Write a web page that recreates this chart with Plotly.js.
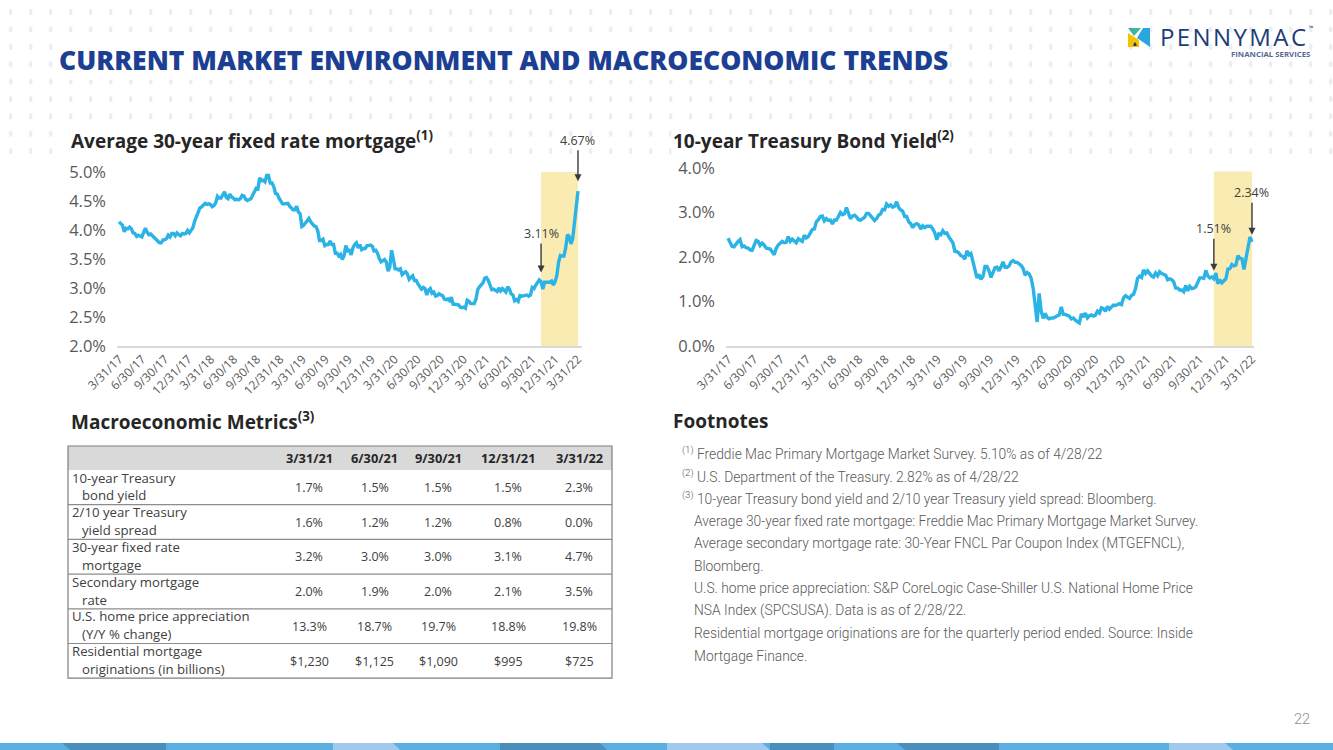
<!DOCTYPE html>
<html>
<head>
<meta charset="utf-8">
<script src="https://cdn.plot.ly/plotly-3.0.1.min.js"></script>
<style>
  html, body { margin: 0; padding: 0; background: #ffffff; }
  #chart { width: 1333px; height: 750px; }
</style>
</head>
<body>
<div id="chart"></div>
<script>
// ---------------- data ----------------
// Quarter-end tick labels shared by both charts
const quarterLabels = ['3/31/17','6/30/17','9/30/17','12/31/17','3/31/18','6/30/18','9/30/18','12/31/18',
  '3/31/19','6/30/19','9/30/19','12/31/19','3/31/20','6/30/20','9/30/20','12/31/20',
  '3/31/21','6/30/21','9/30/21','12/31/21','3/31/22'];

// Weekly series start (Thursdays)
const seriesStart = '2017-03-30';

// Average 30-year fixed rate mortgage, weekly (%)
const mortgage2017 = [4.14, 4.10,4.08,3.97,4.03, 4.02,4.05,4.02,3.95, 3.94,3.89,3.91,3.90,3.88, 3.96,4.03,3.96,3.92,
  3.93,3.90,3.89,3.86,3.82, 3.78,3.78,3.83,3.83, 3.85,3.91,3.88,3.94, 3.94,3.90,3.95,3.92,3.90, 3.94,3.93,3.94,3.99];
const mortgage2018 = [3.95,3.99,4.04,4.15, 4.22,4.32,4.38,4.40, 4.43,4.46,4.44,4.45,4.44, 4.40,4.42,4.47,4.58,
  4.55,4.55,4.61,4.66,4.56, 4.54,4.62,4.57,4.55, 4.52,4.53,4.52,4.54, 4.60,4.59,4.53,4.51,4.52, 4.54,4.60,4.65,4.72,
  4.71,4.90,4.85,4.86, 4.83,4.94,4.94,4.81,4.81, 4.75,4.63,4.62,4.55];
const mortgage2019 = [4.51,4.45,4.45,4.45,4.46, 4.41,4.37,4.35,4.35, 4.41,4.31,4.28,4.06, 4.08,4.12,4.17,4.20,
  4.14,4.10,4.07,4.06,3.99, 3.82,3.82,3.84,3.73, 3.75,3.75,3.81,3.75, 3.75,3.60,3.60,3.55,3.58, 3.49,3.56,3.73,3.64,
  3.65,3.57,3.69,3.75,3.78, 3.69,3.75,3.66,3.68, 3.68,3.73,3.73,3.74];
const mortgage2020 = [3.72,3.64,3.65,3.60,3.51, 3.45,3.47,3.49,3.45, 3.29,3.36,3.65,3.50, 3.33,3.33,3.31,3.33,3.23,
  3.26,3.28,3.24,3.15, 3.18,3.21,3.13,3.13, 3.07,3.03,2.98,3.01,2.99, 2.88,2.96,2.99,2.91, 2.93,2.86,2.87,2.90,
  2.88,2.87,2.81,2.80,2.81, 2.78,2.84,2.72,2.72, 2.71,2.71,2.67,2.66,2.67];
const mortgage2021 = [2.65,2.79,2.77,2.73, 2.73,2.73,2.81,2.97, 3.02,3.05,3.09,3.17, 3.18,3.13,3.04,2.97,2.98,
  2.96,2.94,3.00,2.95, 2.99,2.96,2.93,3.02, 2.98,2.90,2.88,2.78,2.80, 2.77,2.87,2.86,2.87, 2.87,2.88,2.86,2.88,3.01,
  2.99,3.05,3.09,3.14, 3.11,2.98,3.10,3.10, 3.11,3.10,3.12,3.05,3.11];
const mortgage2022 = [3.22,3.45,3.56,3.55, 3.55,3.69,3.92,3.89, 3.76,3.85,4.16,4.42,4.67];

// 10-year Treasury bond yield, weekly (%)
const treasury2017 = [2.42, 2.34,2.24,2.23,2.30, 2.35,2.39,2.23,2.25, 2.21,2.20,2.16,2.15,2.27, 2.37,2.35,2.26,2.31,
  2.27,2.20,2.19,2.18,2.12, 2.05,2.19,2.27,2.31, 2.35,2.32,2.33,2.46, 2.35,2.40,2.37,2.32,2.41, 2.37,2.35,2.49,2.43];
const treasury2018 = [2.46,2.55,2.62,2.63, 2.79,2.84,2.91,2.92, 2.81,2.86,2.82,2.83,2.74, 2.83,2.83,2.91,3.00,
  2.95,2.97,3.11,2.98,2.86, 2.92,2.94,2.90,2.84, 2.83,2.85,2.89,2.98, 2.98,2.93,2.87,2.82,2.86, 2.94,2.97,3.07,3.06,
  3.19,3.14,3.17,3.12, 3.14,3.24,3.11,3.06,3.03, 2.91,2.91,2.79,2.75];
const treasury2019 = [2.66,2.73,2.75,2.72,2.63, 2.70,2.66,2.69,2.69, 2.69,2.63,2.54,2.39, 2.52,2.50,2.59,2.53,
  2.54,2.45,2.39,2.32,2.13, 2.12,2.09,2.03,2.01, 1.95,2.14,2.05,2.08, 1.89,1.72,1.53,1.61,1.50, 1.56,1.79,1.79,1.69,
  1.54,1.66,1.76,1.77,1.69, 1.78,1.89,1.77,1.77, 1.80,1.89,1.92,1.88];
const treasury2020 = [1.88,1.85,1.81,1.74,1.59, 1.65,1.62,1.52,1.30, 0.92,0.54,1.18,0.78, 0.62,0.73,0.64,0.61,0.63,
  0.63,0.65,0.68,0.70, 0.88,0.71,0.71,0.68, 0.67,0.61,0.63,0.58,0.55, 0.52,0.72,0.65,0.74, 0.63,0.68,0.70,0.67,
  0.69,0.78,0.74,0.86,0.84, 0.78,0.89,0.83,0.88, 0.92,0.91,0.93,0.95,0.93];
const treasury2021 = [1.08,1.13,1.10,1.07, 1.14,1.16,1.29,1.52, 1.57,1.54,1.71,1.63, 1.69,1.63,1.57,1.55,1.64,
  1.58,1.67,1.63,1.61, 1.59,1.49,1.51,1.49, 1.44,1.30,1.30,1.26,1.26, 1.22,1.36,1.24,1.34, 1.29,1.30,1.33,1.44,1.53,
  1.53,1.52,1.70,1.57, 1.53,1.55,1.51,1.64, 1.40,1.49,1.42,1.46,1.51];
const treasury2022 = [1.73,1.74,1.83,1.80, 1.82,2.03,1.97,1.96, 1.72,1.99,2.19,2.45,2.34];

// Highlighted window start and the dates called out with arrows
const mortgageCallout = '2021-11-04';
const treasuryCallout = '2021-11-18';

// Macroeconomic metrics table
const tableDates = ['3/31/21','6/30/21','9/30/21','12/31/21','3/31/22'];
const metricLine1 = ['10-year Treasury','2/10 year Treasury','30-year fixed rate','Secondary mortgage','U.S. home price appreciation','Residential mortgage'];
const metricLine2 = ['bond yield','yield spread','mortgage','rate','(Y/Y % change)','originations (in billions)'];
const tenYearYield   = [1.7, 1.5, 1.5, 1.5, 2.3];
const yieldSpread    = [1.6, 1.2, 1.2, 0.8, 0.0];
const fixedRate30    = [3.2, 3.0, 3.0, 3.1, 4.7];
const secondaryRate  = [2.0, 1.9, 2.0, 2.1, 3.5];
const homePriceYoY   = [13.3, 18.7, 19.7, 18.8, 19.8];
const originationsBn = [1230, 1125, 1090, 995, 725];

// Footnotes
const footnoteLines = [
  ['(1)', 'Freddie Mac Primary Mortgage Market Survey. 5.10% as of 4/28/22'],
  ['(2)', 'U.S. Department of the Treasury. 2.82% as of 4/28/22'],
  ['(3)', '10-year Treasury bond yield and 2/10 year Treasury yield spread: Bloomberg.'],
  ['', 'Average 30-year fixed rate mortgage: Freddie Mac Primary Mortgage Market Survey.'],
  ['', 'Average secondary mortgage rate: 30-Year FNCL Par Coupon Index (MTGEFNCL),'],
  ['', 'Bloomberg.'],
  ['', 'U.S. home price appreciation: S&P CoreLogic Case-Shiller U.S. National Home Price'],
  ['', 'NSA Index (SPCSUSA). Data is as of 2/28/22.'],
  ['', 'Residential mortgage originations are for the quarterly period ended. Source: Inside'],
  ['', 'Mortgage Finance.']
];

// ---------------- helpers ----------------
const W = 1333, H = 750;
const X = v => v / W;          // page pixel -> paper x
const Y = v => 1 - v / H;      // page pixel -> paper y

function weeklyDates(start, n) {
  const t0 = Date.parse(start + 'T00:00:00Z');
  const out = [];
  for (let i = 0; i < n; i++) out.push(new Date(t0 + i * 7 * 86400000).toISOString().slice(0, 10));
  return out;
}
function labelToIso(lbl) {
  const [m, d, y] = lbl.split('/').map(Number);
  return `20${String(y).padStart(2,'0')}-${String(m).padStart(2,'0')}-${String(d).padStart(2,'0')}`;
}

const mortgage = [].concat(mortgage2017, mortgage2018, mortgage2019, mortgage2020, mortgage2021, mortgage2022);
const treasury = [].concat(treasury2017, treasury2018, treasury2019, treasury2020, treasury2021, treasury2022);
const mortgageDates = weeklyDates(seriesStart, mortgage.length);
const treasuryDates = weeklyDates(seriesStart, treasury.length);
const tickVals = quarterLabels.map(labelToIso);

const LINE = '#2bb3e6';
const HIGHLIGHT = '#faebb3';
const GREY_TXT = '#595959';

const traces = [
  { x: mortgageDates, y: mortgage, xaxis: 'x', yaxis: 'y', type: 'scatter', mode: 'lines',
    line: { color: LINE, width: 3.4 }, hoverinfo: 'skip' },
  { x: treasuryDates, y: treasury, xaxis: 'x2', yaxis: 'y2', type: 'scatter', mode: 'lines',
    line: { color: LINE, width: 3.4 }, hoverinfo: 'skip' }
];

const xCommon = {
  type: 'date', tickvals: tickVals, ticktext: quarterLabels, tickangle: -45,
  tickfont: { family: 'Open Sans', size: 12, color: GREY_TXT },
  showgrid: false, zeroline: false, showline: true, linecolor: '#d9d9d9', linewidth: 1.5,
  ticks: '', fixedrange: true
};
const yCommon = {
  tickformat: '.1f', ticksuffix: '%', showgrid: false, zeroline: false, showline: false,
  ticks: '', tickfont: { family: 'Open Sans', size: 16.5, color: GREY_TXT }, ticklabelstandoff: 10,
  fixedrange: true
};

// ---------------- shapes ----------------
const shapes = [];
// highlighted windows
shapes.push({ type: 'rect', xref: 'x', yref: 'y', x0: mortgageCallout, x1: mortgageDates[mortgageDates.length - 1],
  y0: 2.0, y1: 5.0, fillcolor: HIGHLIGHT, line: { width: 0 }, layer: 'below' });
shapes.push({ type: 'rect', xref: 'x2', yref: 'y2', x0: treasuryCallout, x1: treasuryDates[treasuryDates.length - 1],
  y0: 0, y1: 3.92, fillcolor: HIGHLIGHT, line: { width: 0 }, layer: 'below' });

// table: header band, row rules, outer frame
const tL = 68, tR = 612, tTop = 446, hdrBot = 470, rowH = 34.7;
shapes.push({ type: 'rect', xref: 'paper', yref: 'paper', x0: X(tL), x1: X(tR), y0: Y(hdrBot), y1: Y(tTop),
  fillcolor: '#d9d9d9', line: { width: 0 } });
for (let r = 1; r < metricLine1.length; r++) {
  const yy = hdrBot + r * rowH;
  shapes.push({ type: 'line', xref: 'paper', yref: 'paper', x0: X(tL), x1: X(tR), y0: Y(yy), y1: Y(yy),
    line: { color: '#8c8c8c', width: 1.2 } });
}
const tBot = hdrBot + metricLine1.length * rowH;
shapes.push({ type: 'rect', xref: 'paper', yref: 'paper', x0: X(tL), x1: X(tR), y0: Y(tBot), y1: Y(tTop),
  line: { color: '#7f7f7f', width: 1.2 } });

// footer colour band
const bandTop = 743, bandBot = 750;
shapes.push({ type: 'rect', xref: 'paper', yref: 'paper', x0: 0, x1: 1, y0: 0, y1: Y(bandTop),
  fillcolor: '#5aaee0', line: { width: 0 } });
const bandPieces = [
  // [topLeft, topRight, bottomLeft, bottomRight, colour]
  [62, 166, 70, 166, '#4a8fbb'],
  [333, 393, 333, 400, '#a0c9ec'],
  [500, 600, 500, 607, '#4a8fbb'],
  [667, 762, 667, 770, '#a0c9ec'],
  [770, 834, 770, 834, '#4a8fbb'],
  [897, 999, 905, 999, '#4a8fbb'],
  [1169, 1225, 1169, 1233, '#a0c9ec']
];
bandPieces.forEach(([a, b, c, d, col]) => {
  shapes.push({ type: 'path', xref: 'paper', yref: 'paper', fillcolor: col, line: { width: 0 },
    path: `M ${X(a)} ${Y(bandTop)} L ${X(b)} ${Y(bandTop)} L ${X(d)} ${Y(bandBot)} L ${X(c)} ${Y(bandBot)} Z` });
});

// logo mark
function poly(pts, col) {
  const p = pts.map((q, i) => `${i ? 'L' : 'M'} ${X(q[0])} ${Y(q[1])}`).join(' ') + ' Z';
  shapes.push({ type: 'path', xref: 'paper', yref: 'paper', path: p, fillcolor: col, line: { width: 0 } });
}
poly([[1128, 47], [1128, 33], [1139, 40], [1139, 47]], '#f6c200');
poly([[1128, 28], [1141, 28], [1134, 36]], '#3fb59b');
poly([[1143, 28], [1150, 28], [1150, 47], [1137, 38]], '#2aa6df');
poly([[1133.5, 44], [1135, 42], [1136.5, 44], [1136.5, 46], [1133.5, 46]], '#1d3c78');

// ---------------- annotations ----------------
const annotations = [];
function txt(x, y, text, font, xanchor = 'left', extra = {}) {
  annotations.push(Object.assign({ xref: 'paper', yref: 'paper', x: X(x), y: Y(y), text, showarrow: false,
    xanchor, yanchor: 'middle', font, align: xanchor === 'center' ? 'center' : 'left' }, extra));
}

// headings
txt(57, 60, 'CURRENT MARKET ENVIRONMENT AND MACROECONOMIC TRENDS',
  { family: 'Open Sans', size: 26.5, color: '#1c3f94', weight: 800 }, 'left', { bgcolor: '#ffffff', borderpad: 1 });
const headFont = { family: 'Open Sans', size: 19, color: '#262626', weight: 700 };
txt(69, 140, 'Average 30-year fixed rate mortgage<sup>(1)</sup>', headFont, 'left', { bgcolor: '#ffffff' });
txt(671, 140, '10-year Treasury Bond Yield<sup>(2)</sup>', headFont, 'left', { bgcolor: '#ffffff' });
txt(69, 421, 'Macroeconomic Metrics<sup>(3)</sup>', headFont);
txt(671, 421, 'Footnotes', headFont);

// logo wording
txt(1158, 36.5, 'P\u200AE\u200AN\u200AN\u200AY\u200AM\u200AA\u200AC', { family: 'Open Sans', size: 24, color: '#1d3c78', weight: 500 },
  'left', { height: 22 });
txt(1307, 28, '\u2122', { family: 'Open Sans', size: 6, color: '#1d3c78' });
txt(1312, 54.5, 'FINANCIAL SERVICES', { family: 'Open Sans', size: 7.8, color: '#56698f', weight: 700 }, 'right');

// arrow call-outs on the lines
function callout(xa, ya, date, dates, vals, ay, standoff) {
  const i = dates.indexOf(date);
  annotations.push({ xref: xa, yref: ya, x: dates[i], y: vals[i], text: vals[i].toFixed(2) + '%',
    showarrow: true, arrowhead: 2, arrowsize: 1, arrowwidth: 1.4, arrowcolor: '#3a3a3a',
    ax: 0, ay, standoff, font: { family: 'Open Sans', size: 12.5, color: '#404040' } });
}
callout('x', 'y', mortgageCallout, mortgageDates, mortgage, -48, 9);
callout('x', 'y', mortgageDates[mortgageDates.length - 1], mortgageDates, mortgage, -51, 10);
callout('x2', 'y2', treasuryCallout, treasuryDates, treasury, -50, 8);
callout('x2', 'y2', treasuryDates[treasuryDates.length - 1], treasuryDates, treasury, -49, 7);

// table text
const colX = [309, 375, 438, 508, 579];
const labelFont = { family: 'Open Sans', size: 13.2, color: '#404040' };
const cellFont = { family: 'Open Sans', size: 12.5, color: '#404040' };
tableDates.forEach((d, c) => txt(colX[c], 458, d, { family: 'Open Sans', size: 12.8, color: '#262626', weight: 700 }, 'center'));
const pct = v => v.toFixed(1) + '%';
const usd = v => '$' + v.toLocaleString('en-US');
const rows = [
  tenYearYield.map(pct), yieldSpread.map(pct), fixedRate30.map(pct),
  secondaryRate.map(pct), homePriceYoY.map(pct), originationsBn.map(usd)
];
rows.forEach((vals, r) => {
  const top = hdrBot + r * rowH;
  txt(70, top + 7.5, metricLine1[r], labelFont);
  txt(80, top + 25.5, metricLine2[r], labelFont);
  vals.forEach((v, c) => txt(colX[c], top + 17.5, v, cellFont, 'center'));
});

// footnotes
const noteFont = { family: 'Roboto', size: 13.8, color: GREY_TXT, weight: 300 };
footnoteLines.forEach(([mark, line], i) => {
  const y = 453 + i * 22.5;
  if (mark) txt(680, y, '<sup>' + mark + '</sup> ' + line, noteFont);
  else txt(692, y, line, noteFont);
});

// page number
txt(1302, 719, '22', { family: 'Roboto', size: 14.5, color: '#8c8c8c', weight: 300 }, 'center');

// ---------------- background dot texture ----------------
const dotSvg = "<svg xmlns='http://www.w3.org/2000/svg' width='1333' height='158'>" +
  "<defs><pattern id='d' x='9' y='9' width='20' height='17.4' patternUnits='userSpaceOnUse'>" +
  "<rect width='3.4' height='6' rx='1.5' fill='#eaeef4'/></pattern></defs>" +
  "<rect width='1333' height='158' fill='url(#d)'/></svg>";

const layout = {
  width: W, height: H, margin: { l: 0, r: 0, t: 0, b: 0 },
  paper_bgcolor: '#ffffff', plot_bgcolor: 'rgba(0,0,0,0)', showlegend: false,
  xaxis: Object.assign({}, xCommon, { domain: [X(117), X(582)], range: ['2017-03-22', '2022-04-16'], anchor: 'y' }),
  yaxis: Object.assign({}, yCommon, { domain: [Y(346), Y(172)], range: [2, 5], dtick: 0.5, anchor: 'x' }),
  xaxis2: Object.assign({}, xCommon, { domain: [X(726), X(1254)], range: ['2017-03-23', '2022-04-07'], anchor: 'y2' }),
  yaxis2: Object.assign({}, yCommon, { domain: [Y(346), Y(168)], range: [0, 4], dtick: 1, anchor: 'x2' }),
  shapes, annotations,
  images: [{ source: 'data:image/svg+xml;charset=utf-8,' + encodeURIComponent(dotSvg),
    xref: 'paper', yref: 'paper', x: 0, y: 1, sizex: 1, sizey: 158 / H,
    xanchor: 'left', yanchor: 'top', sizing: 'stretch', layer: 'below' }]
};

Plotly.newPlot('chart', traces, layout, { staticPlot: true, displayModeBar: false });
</script>
</body>
</html>
